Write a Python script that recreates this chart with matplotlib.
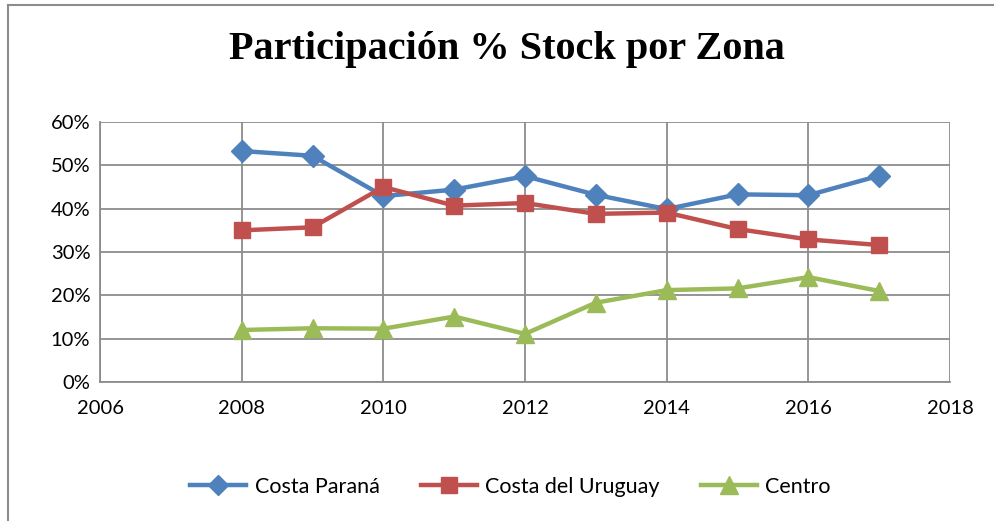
import matplotlib.pyplot as plt
from matplotlib.lines import Line2D
from matplotlib.ticker import PercentFormatter

years = [2008, 2009, 2010, 2011, 2012, 2013, 2014, 2015, 2016, 2017]
costa_parana = [53.3, 52.2, 42.9, 44.4, 47.5, 43.2, 39.9, 43.3, 43.1, 47.6]
costa_uruguay = [35.0, 35.7, 45.0, 40.7, 41.3, 38.8, 39.1, 35.3, 32.9, 31.6]
centro = [12.0, 12.4, 12.3, 15.1, 11.1, 18.3, 21.2, 21.6, 24.2, 21.0]

series = [
    ('Costa Paraná', costa_parana, '#4F81BD', 'D', 11),
    ('Costa del Uruguay', costa_uruguay, '#C0504D', 's', 12),
    ('Centro', centro, '#9BBB59', '^', 13),
]

fig = plt.figure(figsize=(9.97, 5.21), dpi=100)
ax = fig.add_axes([100 / 997, 1 - 382 / 521, 850 / 997, 260 / 521])

for name, vals, color, marker, ms in series:
    ax.plot(years, vals, color=color, lw=3.2, marker=marker, ms=ms,
            label=name, solid_joinstyle='round')

ax.set_xlim(2006, 2018)
ax.set_ylim(0, 60)
ax.set_xticks(range(2006, 2019, 2))
ax.set_yticks(range(0, 61, 10))
ax.yaxis.set_major_formatter(PercentFormatter(decimals=0))
ax.grid(True, color='#8c8c8c', lw=1.3)
ax.set_axisbelow(True)
for side in ['top', 'right']:
    ax.spines[side].set_visible(False)
for side in ['left', 'bottom']:
    ax.spines[side].set_color('#8c8c8c')
    ax.spines[side].set_linewidth(1.3)
ax.tick_params(axis='both', length=0, labelsize=14.5, colors='black')
ax.tick_params(axis='x', pad=13)
ax.tick_params(axis='y', pad=7)
for lab in ax.get_xticklabels() + ax.get_yticklabels():
    lab.set_family('Lato')

fig.text(0.508, 1 - 49 / 521, 'Participación % Stock por Zona', ha='center',
         va='center', family='Liberation Serif', weight='bold', fontsize=29)

handles = [Line2D([], [], color=c, lw=3.2, marker=m, ms=s * 0.95)
           for _, _, c, m, s in series]
fig.legend(handles, [s[0] for s in series], loc='center',
           bbox_to_anchor=(0.512, 1 - 487 / 521), ncol=3, frameon=False,
           prop={'family': 'Lato', 'size': 15.5}, handlelength=2.6,
           columnspacing=1.9, handletextpad=0.4)

# outer chart border (left and top only)
fig.add_artist(Line2D([8 / 997, 8 / 997], [0, 1 - 5 / 521], color='#8c8c8c',
                      lw=1.5, transform=fig.transFigure))
fig.add_artist(Line2D([8 / 997, 993 / 997], [1 - 5 / 521, 1 - 5 / 521],
                      color='#8c8c8c', lw=1.5, transform=fig.transFigure))

fig.savefig('out.png', dpi=100)
